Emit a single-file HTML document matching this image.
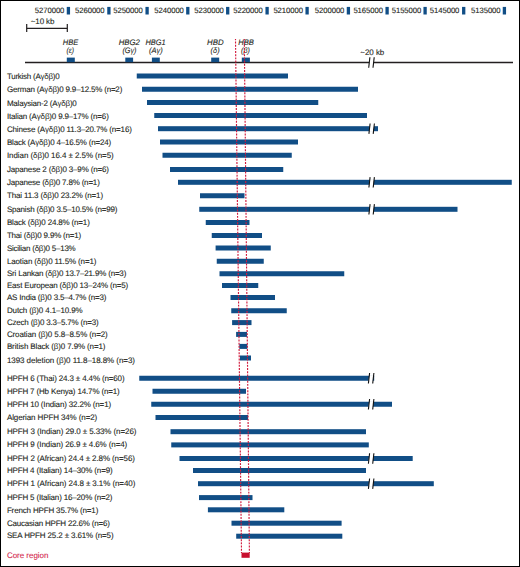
<!DOCTYPE html>
<html><head><meta charset="utf-8"><style>
html,body{margin:0;padding:0;background:#fff;width:520px;height:567px;overflow:hidden}
svg{display:block}
</style></head><body>
<svg width="520" height="567" viewBox="0 0 520 567">
<style>text{font-family:"Liberation Sans", sans-serif;font-size:8.0px;fill:#231f20;stroke:#231f20;stroke-width:0.1px;text-rendering:geometricPrecision}.g{stroke-width:0.02px}.it{font-style:italic;font-size:8px}</style>
<rect x="0" y="0" width="520" height="567" fill="#fff"/>
<text x="34.80" y="12.6" style="font-size:7.7px;stroke-width:0.12px" textLength="29.6" lengthAdjust="spacing">5270000</text>
<text x="75.00" y="12.6" style="font-size:7.7px;stroke-width:0.12px" textLength="29.6" lengthAdjust="spacing">5260000</text>
<text x="113.20" y="12.6" style="font-size:7.7px;stroke-width:0.12px" textLength="29.6" lengthAdjust="spacing">5250000</text>
<text x="154.30" y="12.6" style="font-size:7.7px;stroke-width:0.12px" textLength="29.6" lengthAdjust="spacing">5240000</text>
<text x="194.30" y="12.6" style="font-size:7.7px;stroke-width:0.12px" textLength="29.6" lengthAdjust="spacing">5230000</text>
<text x="233.20" y="12.6" style="font-size:7.7px;stroke-width:0.12px" textLength="29.6" lengthAdjust="spacing">5220000</text>
<text x="273.40" y="12.6" style="font-size:7.7px;stroke-width:0.12px" textLength="29.6" lengthAdjust="spacing">5210000</text>
<text x="314.80" y="12.6" style="font-size:7.7px;stroke-width:0.12px" textLength="29.6" lengthAdjust="spacing">5200000</text>
<text x="353.40" y="12.6" style="font-size:7.7px;stroke-width:0.12px" textLength="29.6" lengthAdjust="spacing">5165000</text>
<text x="391.70" y="12.6" style="font-size:7.7px;stroke-width:0.12px" textLength="29.6" lengthAdjust="spacing">5155000</text>
<text x="429.80" y="12.6" style="font-size:7.7px;stroke-width:0.12px" textLength="29.6" lengthAdjust="spacing">5145000</text>
<text x="471.00" y="12.6" style="font-size:7.7px;stroke-width:0.12px" textLength="29.6" lengthAdjust="spacing">5135000</text>
<rect x="66.75" y="6.9" width="3.3" height="7.6" fill="#114e86"/>
<rect x="107.25" y="6.9" width="3.3" height="7.6" fill="#114e86"/>
<rect x="145.45" y="6.9" width="3.3" height="7.6" fill="#114e86"/>
<rect x="186.15" y="6.9" width="3.3" height="7.6" fill="#114e86"/>
<rect x="226.05" y="6.9" width="3.3" height="7.6" fill="#114e86"/>
<rect x="265.45" y="6.9" width="3.3" height="7.6" fill="#114e86"/>
<rect x="305.45" y="6.9" width="3.3" height="7.6" fill="#114e86"/>
<rect x="346.75" y="6.9" width="3.3" height="7.6" fill="#114e86"/>
<rect x="385.45" y="6.9" width="3.3" height="7.6" fill="#114e86"/>
<rect x="423.45" y="6.9" width="3.3" height="7.6" fill="#114e86"/>
<rect x="462.05" y="6.9" width="3.3" height="7.6" fill="#114e86"/>
<rect x="502.75" y="6.9" width="3.3" height="7.6" fill="#114e86"/>
<text x="30.8" y="23.8" style="font-size:8px" textLength="23.6" lengthAdjust="spacing">~10 kb</text>
<line x1="26.7" y1="28.4" x2="67.3" y2="28.4" stroke="#231f20" stroke-width="1.2"/>
<line x1="26.7" y1="24.1" x2="26.7" y2="31.9" stroke="#231f20" stroke-width="1.2"/>
<line x1="67.3" y1="24.1" x2="67.3" y2="31.9" stroke="#231f20" stroke-width="1.2"/>
<line x1="25" y1="62.5" x2="513" y2="62.5" stroke="#231f20" stroke-width="1.3"/>
<text x="360.3" y="55.1" style="font-size:8px" textLength="24" lengthAdjust="spacing">~20 kb</text>
<polygon points="369.60,59.50 373.90,59.50 373.10,65.50 368.80,65.50" fill="#fff"/><line x1="369.90" y1="57.30" x2="368.70" y2="67.70" stroke="#111" stroke-width="1.1"/><line x1="374.20" y1="57.30" x2="373.00" y2="67.70" stroke="#111" stroke-width="1.1"/>
<rect x="66.80" y="57.6" width="8.00" height="4.6" fill="#114e86"/>
<text class="it" x="62.70" y="44.5" textLength="15.50" lengthAdjust="spacingAndGlyphs">HBE</text>
<text class="it" x="66.60" y="53.2" textLength="7.50" lengthAdjust="spacingAndGlyphs">(<tspan class="g">ε</tspan>)</text>
<rect x="125.30" y="57.6" width="7.80" height="4.6" fill="#114e86"/>
<text class="it" x="118.70" y="44.5" textLength="21.20" lengthAdjust="spacingAndGlyphs">HBG2</text>
<text class="it" x="122.40" y="53.2" textLength="14.10" lengthAdjust="spacingAndGlyphs">(G<tspan class="g">γ</tspan>)</text>
<rect x="151.90" y="57.6" width="7.90" height="4.6" fill="#114e86"/>
<text class="it" x="145.50" y="44.5" textLength="20.20" lengthAdjust="spacingAndGlyphs">HBG1</text>
<text class="it" x="148.90" y="53.2" textLength="13.80" lengthAdjust="spacingAndGlyphs">(A<tspan class="g">γ</tspan>)</text>
<rect x="211.20" y="57.6" width="8.00" height="4.6" fill="#114e86"/>
<text class="it" x="207.10" y="44.5" textLength="16.50" lengthAdjust="spacingAndGlyphs">HBD</text>
<text class="it" x="210.60" y="53.2" textLength="9.00" lengthAdjust="spacingAndGlyphs">(<tspan class="g">δ</tspan>)</text>
<rect x="241.80" y="57.6" width="8.10" height="4.6" fill="#114e86"/>
<text class="it" x="238.20" y="44.5" textLength="15.70" lengthAdjust="spacingAndGlyphs">HBB</text>
<text class="it" x="241.10" y="53.2" textLength="8.80" lengthAdjust="spacingAndGlyphs">(<tspan class="g">β</tspan>)</text>
<text x="6.90" y="78.50" textLength="52.80" lengthAdjust="spacing">Turkish (A<tspan class="g">γ</tspan><tspan class="g">δ</tspan><tspan class="g">β</tspan>)0</text>
<rect x="136.75" y="73.50" width="151.25" height="5" fill="#114e86"/>
<text x="6.90" y="92.00" textLength="115.40" lengthAdjust="spacing">German (A<tspan class="g">γ</tspan><tspan class="g">δ</tspan><tspan class="g">β</tspan>)0 9.9–12.5% (n=2)</text>
<rect x="142.00" y="86.75" width="216.00" height="5" fill="#114e86"/>
<text x="6.90" y="105.50" textLength="69.90" lengthAdjust="spacing">Malaysian-2 (A<tspan class="g">γ</tspan><tspan class="g">δ</tspan><tspan class="g">β</tspan>)0</text>
<rect x="147.00" y="100.00" width="171.25" height="5" fill="#114e86"/>
<text x="6.90" y="118.70" textLength="101.90" lengthAdjust="spacing">Italian (A<tspan class="g">γ</tspan><tspan class="g">δ</tspan><tspan class="g">β</tspan>)0 9.9–17% (n=6)</text>
<rect x="154.25" y="113.00" width="212.75" height="5" fill="#114e86"/>
<text x="6.90" y="131.60" textLength="125.00" lengthAdjust="spacing">Chinese (A<tspan class="g">γ</tspan><tspan class="g">δ</tspan><tspan class="g">β</tspan>)0 11.3–20.7% (n=16)</text>
<rect x="158.00" y="126.20" width="220.00" height="5" fill="#114e86"/>
<polygon points="369.80,125.70 374.10,125.70 373.30,131.70 369.00,131.70" fill="#fff"/><line x1="370.10" y1="123.50" x2="368.90" y2="133.90" stroke="#111" stroke-width="1.1"/><line x1="374.40" y1="123.50" x2="373.20" y2="133.90" stroke="#111" stroke-width="1.1"/>
<text x="6.90" y="144.70" textLength="104.30" lengthAdjust="spacing">Black (A<tspan class="g">γ</tspan><tspan class="g">δ</tspan><tspan class="g">β</tspan>)0 4–16.5% (n=24)</text>
<rect x="160.00" y="139.50" width="138.00" height="5" fill="#114e86"/>
<text x="6.90" y="157.90" textLength="106.80" lengthAdjust="spacing">Indian (<tspan class="g">δ</tspan><tspan class="g">β</tspan>)0 16.4 ± 2.5% (n=5)</text>
<rect x="162.50" y="152.75" width="129.25" height="5" fill="#114e86"/>
<text x="6.90" y="172.20" textLength="102.00" lengthAdjust="spacing">Japanese 2 (<tspan class="g">δ</tspan><tspan class="g">β</tspan>)0 3–9% (n=6)</text>
<rect x="170.00" y="167.00" width="113.25" height="5" fill="#114e86"/>
<text x="6.90" y="184.90" textLength="92.90" lengthAdjust="spacing">Japanese (<tspan class="g">δ</tspan><tspan class="g">β</tspan>)0 7.8% (n=1)</text>
<rect x="178.00" y="179.80" width="333.75" height="5" fill="#114e86"/>
<polygon points="369.80,179.30 374.10,179.30 373.30,185.30 369.00,185.30" fill="#fff"/><line x1="370.10" y1="177.10" x2="368.90" y2="187.50" stroke="#111" stroke-width="1.1"/><line x1="374.40" y1="177.10" x2="373.20" y2="187.50" stroke="#111" stroke-width="1.1"/>
<text x="6.90" y="198.30" textLength="96.20" lengthAdjust="spacing">Thai 11.3 (<tspan class="g">δ</tspan><tspan class="g">β</tspan>)0 23.2% (n=1)</text>
<rect x="200.00" y="193.25" width="44.50" height="5" fill="#114e86"/>
<text x="6.90" y="211.90" textLength="110.50" lengthAdjust="spacing">Spanish (<tspan class="g">δ</tspan><tspan class="g">β</tspan>)0 3.5–10.5% (n=99)</text>
<rect x="199.25" y="206.80" width="258.25" height="5" fill="#114e86"/>
<polygon points="369.80,206.30 374.10,206.30 373.30,212.30 369.00,212.30" fill="#fff"/><line x1="370.10" y1="204.10" x2="368.90" y2="214.50" stroke="#111" stroke-width="1.1"/><line x1="374.40" y1="204.10" x2="373.20" y2="214.50" stroke="#111" stroke-width="1.1"/>
<text x="6.90" y="225.10" textLength="82.90" lengthAdjust="spacing">Black (<tspan class="g">δ</tspan><tspan class="g">β</tspan>)0 24.8% (n=1)</text>
<rect x="205.75" y="220.00" width="43.75" height="5" fill="#114e86"/>
<text x="6.90" y="237.90" textLength="74.30" lengthAdjust="spacing">Thai (<tspan class="g">δ</tspan><tspan class="g">β</tspan>)0 9.9% (n=1)</text>
<rect x="211.75" y="233.00" width="50.25" height="5" fill="#114e86"/>
<text x="6.90" y="250.70" textLength="68.80" lengthAdjust="spacing">Sicilian (<tspan class="g">δ</tspan><tspan class="g">β</tspan>)0 5–13%</text>
<rect x="215.60" y="245.50" width="55.15" height="5" fill="#114e86"/>
<text x="6.90" y="263.90" textLength="89.50" lengthAdjust="spacing">Laotian (<tspan class="g">δ</tspan><tspan class="g">β</tspan>)0 11.5% (n=1)</text>
<rect x="216.75" y="258.75" width="47.00" height="5" fill="#114e86"/>
<text x="6.90" y="276.00" textLength="119.40" lengthAdjust="spacing">Sri Lankan (<tspan class="g">δ</tspan><tspan class="g">β</tspan>)0 13.7–21.9% (n=3)</text>
<rect x="219.50" y="271.25" width="124.75" height="5" fill="#114e86"/>
<text x="6.90" y="287.80" textLength="121.20" lengthAdjust="spacing">East European (<tspan class="g">δ</tspan><tspan class="g">β</tspan>)0 13–24% (n=5)</text>
<rect x="222.00" y="283.00" width="36.25" height="5" fill="#114e86"/>
<text x="6.90" y="300.00" textLength="99.50" lengthAdjust="spacing">AS India (<tspan class="g">β</tspan>)0 3.5–4.7% (n=3)</text>
<rect x="230.50" y="295.00" width="44.50" height="5" fill="#114e86"/>
<text x="6.90" y="313.20" textLength="75.70" lengthAdjust="spacing">Dutch (<tspan class="g">β</tspan>)0 4.1–10.9%</text>
<rect x="231.25" y="308.25" width="55.50" height="5" fill="#114e86"/>
<text x="6.90" y="324.90" textLength="91.80" lengthAdjust="spacing">Czech (<tspan class="g">β</tspan>)0 3.3–5.7% (n=3)</text>
<rect x="232.10" y="320.10" width="19.40" height="5" fill="#114e86"/>
<text x="6.90" y="336.70" textLength="100.80" lengthAdjust="spacing">Croatian (<tspan class="g">β</tspan>)0 5.8–8.5% (n=2)</text>
<rect x="236.10" y="331.90" width="10.90" height="5" fill="#114e86"/>
<text x="6.90" y="349.10" textLength="98.50" lengthAdjust="spacing">British Black (<tspan class="g">β</tspan>)0 7.9% (n=1)</text>
<rect x="239.30" y="343.90" width="8.00" height="5" fill="#114e86"/>
<text x="6.90" y="362.70" textLength="128.10" lengthAdjust="spacing">1393 deletion (<tspan class="g">β</tspan>)0 11.8–18.8% (n=3)</text>
<rect x="240.00" y="355.50" width="11.00" height="5" fill="#114e86"/>
<text x="6.90" y="380.90" textLength="117.70" lengthAdjust="spacing">HPFH 6 (Thai) 24.3 ± 4.4% (n=60)</text>
<rect x="139.25" y="375.75" width="234.95" height="5" fill="#114e86"/>
<polygon points="369.30,375.25 373.60,375.25 372.80,381.25 368.50,381.25" fill="#fff"/><line x1="369.60" y1="373.05" x2="368.40" y2="383.45" stroke="#111" stroke-width="1.1"/><line x1="373.90" y1="373.05" x2="372.70" y2="383.45" stroke="#111" stroke-width="1.1"/>
<text x="6.90" y="394.10" textLength="112.80" lengthAdjust="spacing">HPFH 7 (Hb Kenya) 14.7% (n=1)</text>
<rect x="152.50" y="388.75" width="93.50" height="5" fill="#114e86"/>
<text x="6.90" y="407.00" textLength="104.20" lengthAdjust="spacing">HPFH 10 (Indian) 32.2% (n=1)</text>
<rect x="151.25" y="401.75" width="240.75" height="5" fill="#114e86"/>
<polygon points="369.30,401.25 373.60,401.25 372.80,407.25 368.50,407.25" fill="#fff"/><line x1="369.60" y1="399.05" x2="368.40" y2="409.45" stroke="#111" stroke-width="1.1"/><line x1="373.90" y1="399.05" x2="372.70" y2="409.45" stroke="#111" stroke-width="1.1"/>
<text x="6.90" y="420.00" textLength="90.30" lengthAdjust="spacing">Algerian HPFH 34% (n=2)</text>
<rect x="155.50" y="415.00" width="92.50" height="5" fill="#114e86"/>
<text x="6.90" y="434.00" textLength="129.50" lengthAdjust="spacing">HPFH 3 (Indian) 29.0 ± 5.33% (n=26)</text>
<rect x="170.50" y="429.20" width="195.50" height="5" fill="#114e86"/>
<text x="6.90" y="447.20" textLength="120.30" lengthAdjust="spacing">HPFH 9 (Indian) 26.9 ± 4.6% (n=4)</text>
<rect x="171.25" y="442.40" width="197.55" height="5" fill="#114e86"/>
<text x="6.90" y="460.50" textLength="128.00" lengthAdjust="spacing">HPFH 2 (African) 24.4 ± 2.8% (n=56)</text>
<rect x="179.50" y="456.00" width="233.20" height="5" fill="#114e86"/>
<polygon points="369.30,455.50 373.60,455.50 372.80,461.50 368.50,461.50" fill="#fff"/><line x1="369.60" y1="453.30" x2="368.40" y2="463.70" stroke="#111" stroke-width="1.1"/><line x1="373.90" y1="453.30" x2="372.70" y2="463.70" stroke="#111" stroke-width="1.1"/>
<text x="6.90" y="472.70" textLength="105.70" lengthAdjust="spacing">HPFH 4 (Italian) 14–30% (n=9)</text>
<rect x="193.00" y="468.00" width="173.00" height="5" fill="#114e86"/>
<text x="6.90" y="486.40" textLength="128.40" lengthAdjust="spacing">HPFH 1 (African) 24.8 ± 3.1% (n=40)</text>
<rect x="198.00" y="481.20" width="235.80" height="5" fill="#114e86"/>
<polygon points="369.30,480.70 373.60,480.70 372.80,486.70 368.50,486.70" fill="#fff"/><line x1="369.60" y1="478.50" x2="368.40" y2="488.90" stroke="#111" stroke-width="1.1"/><line x1="373.90" y1="478.50" x2="372.70" y2="488.90" stroke="#111" stroke-width="1.1"/>
<text x="6.90" y="500.20" textLength="105.50" lengthAdjust="spacing">HPFH 5 (Italian) 16–20% (n=2)</text>
<rect x="199.00" y="495.10" width="53.50" height="5" fill="#114e86"/>
<text x="6.90" y="512.50" textLength="91.40" lengthAdjust="spacing">French HPFH 35.7% (n=1)</text>
<rect x="207.90" y="507.30" width="76.40" height="5" fill="#114e86"/>
<text x="6.90" y="525.70" textLength="102.90" lengthAdjust="spacing">Caucasian HPFH 22.6% (n=6)</text>
<rect x="231.50" y="520.70" width="110.10" height="5" fill="#114e86"/>
<text x="6.90" y="538.40" textLength="106.70" lengthAdjust="spacing">SEA HPFH 25.2 ± 3.61% (n=5)</text>
<rect x="236.20" y="533.70" width="106.10" height="5" fill="#114e86"/>
<line x1="235.5" y1="39" x2="241.5" y2="553" stroke="#d21a3c" stroke-width="1.15" stroke-dasharray="1.95 1.22" stroke-dashoffset="0.62"/>
<line x1="244.3" y1="39" x2="249.4" y2="553" stroke="#d21a3c" stroke-width="1.15" stroke-dasharray="1.95 1.22" stroke-dashoffset="0.62"/>
<rect x="241.5" y="552.6" width="8.2" height="5.2" fill="#c80f2e"/>
<text x="6.9" y="557.8" style="fill:#d42a4f;stroke:#d42a4f" textLength="41.6" lengthAdjust="spacing">Core region</text>
<rect x="0.5" y="0.5" width="519" height="566" fill="none" stroke="#000" stroke-width="1"/>
</svg>
</body></html>
